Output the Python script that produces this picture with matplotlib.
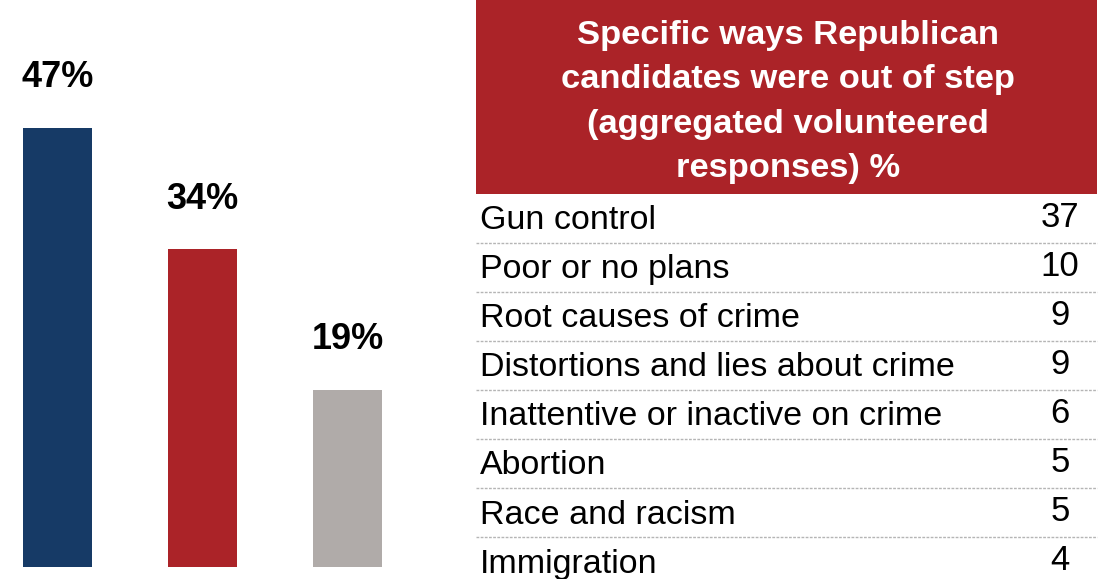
import matplotlib.pyplot as plt
import matplotlib.patches as patches

# bar chart data
bar_values = [47, 34, 19]
bar_colors = ["#163a66", "#ab2328", "#b0aba9"]

# table data
header_text = "Specific ways Republican\ncandidates were out of step\n(aggregated volunteered\nresponses) %"
issues = [
    "Gun control",
    "Poor or no plans",
    "Root causes of crime",
    "Distortions and lies about crime",
    "Inattentive or inactive on crime",
    "Abortion",
    "Race and racism",
    "Immigration",
]
issue_pcts = [37, 10, 9, 9, 6, 5, 5, 4]

plt.rcParams["font.family"] = ["Liberation Sans", "DejaVu Sans"]

W, H = 1104, 579
fig = plt.figure(figsize=(W / 100, H / 100), dpi=100)

# left: bars
ax1 = fig.add_axes([0, 12 / H, 460 / W, 567 / H])
x = range(len(bar_values))
ax1.bar(x, bar_values, width=0.476, color=bar_colors)
for i, v in enumerate(bar_values):
    ax1.annotate(f"{v}%", (i, v), xytext=(0, 36), textcoords="offset points",
                 ha="center", va="center", fontsize=26, fontweight="bold")
ax1.set_xlim(-0.397, 2.776)
ax1.set_ylim(0, 60.7)
ax1.axis("off")

# right: table
ax2 = fig.add_axes([476 / W, 0, 628 / W, 1])
row_h = 49.1
top = -218 / row_h
bottom = (H - 218) / row_h
ax2.set_xlim(0, 628)
ax2.set_ylim(bottom, top)
ax2.axis("off")

hdr_bottom = (194 - 218) / row_h
ax2.add_patch(patches.Rectangle((0, top), 621, hdr_bottom - top,
                                facecolor="#ab2328", edgecolor="none"))
ax2.text(312, (top + hdr_bottom) / 2 + 0.1, header_text, ha="center", va="center",
         color="white", fontsize=24.8, fontweight="bold", linespacing=1.55)

for i, (name, pct) in enumerate(zip(issues, issue_pcts)):
    ax2.text(4, i + 0.05, name, ha="left", va="center", fontsize=24.5, color="black")
    ax2.text(584, i - 0.02, str(pct), ha="center", va="center", fontsize=25, color="black")
    if i < len(issues) - 1:
        ax2.plot([0, 621], [i + 0.5, i + 0.5], color="#b5b5b5", lw=1,
                 linestyle=(0, (2, 1)))

fig.savefig("out.png", dpi=100)
